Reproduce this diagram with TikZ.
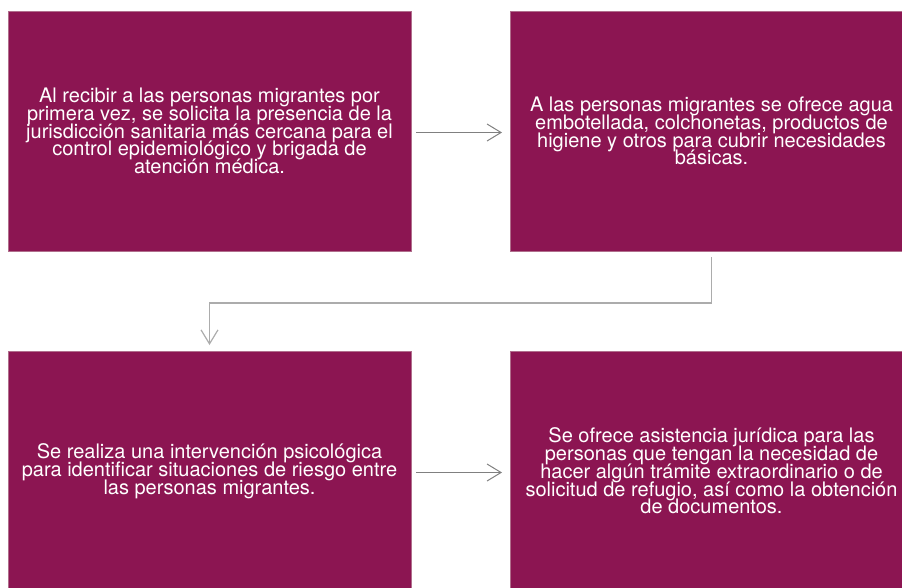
\documentclass[tikz,border=0pt]{standalone}
\usepackage{fontspec}
\setmainfont{TeX Gyre Heros}
\usetikzlibrary{arrows.meta}
\definecolor{boxfill}{RGB}{140,21,82}
\definecolor{boxedge}{RGB}{176,110,140}
\definecolor{arrowA}{RGB}{128,128,128}
\definecolor{arrowB}{RGB}{172,172,172}
\newcommand\myboxfont{\fontsize{20pt}{17.75pt}\selectfont\setlength{\lineskiplimit}{-100pt}\setlength{\lineskip}{0pt}}
\begin{document}
\begin{tikzpicture}[x=1pt,y=-1pt,
  stepbox/.style={fill=boxfill, draw=boxedge, line width=0.6pt, anchor=north west,
    minimum width=403pt, minimum height=240pt, inner sep=0pt, outer sep=0pt,
    text=white, align=center, font=\myboxfont},
  conn/.style={draw=arrowA, line width=1pt,
    -{Straight Barb[length=14pt,width=17pt,line width=1pt]}},
  connB/.style={draw=arrowB, line width=1.6pt,
    -{Straight Barb[length=14pt,width=17pt,line width=1.2pt]}}]
\useasboundingbox (0,0) rectangle (902,587);
\node[stepbox] (b1) at (8,11) {Al recibir a las personas migrantes por\\primera vez, se solicita la presencia de la\\jurisdicción sanitaria más cercana para el\\control epidemiológico y brigada de\\atención médica.};
\node[stepbox] (b2) at (510,11) {A las personas migrantes se ofrece agua\\embotellada, colchonetas, productos de\\higiene y otros para cubrir necesidades\\básicas.};
\node[stepbox] (b3) at (8,351) {Se realiza una intervención psicológica\\para identificar situaciones de riesgo entre\\las personas migrantes.};
\node[stepbox] (b4) at (510,351) {Se ofrece asistencia jurídica para las\\personas que tengan la necesidad de\\hacer algún trámite extraordinario o de\\solicitud de refugio, así como la obtención\\de documentos.};
\draw[conn, shorten <=5pt, shorten >=8pt] ([yshift=-1.5pt]b1.east) -- ([yshift=-1.5pt]b2.west);
\draw[conn, shorten <=5pt, shorten >=8pt] ([yshift=-1.5pt]b3.east) -- ([yshift=-1.5pt]b4.west);
\draw[connB, shorten <=6pt, shorten >=6pt] (b2.south) -- ++(0,52) -| (b3.north);
\end{tikzpicture}
\end{document}
